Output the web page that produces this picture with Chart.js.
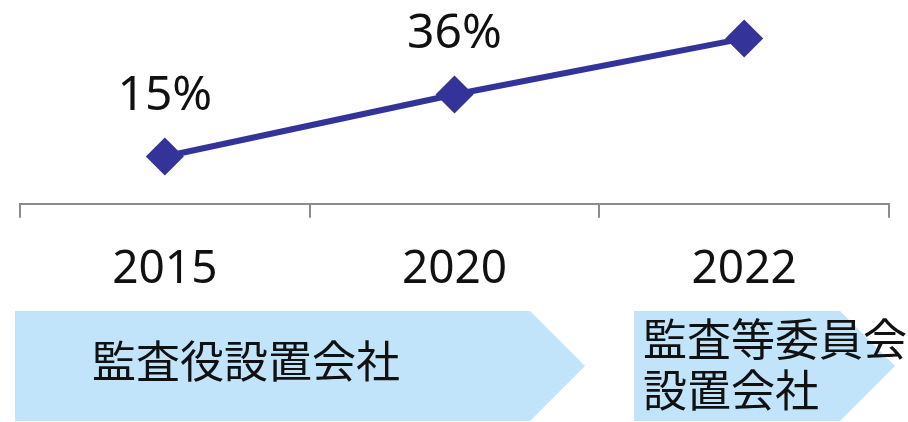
<!DOCTYPE html>
<html>
<head>
<meta charset="utf-8">
<script src="https://cdn.jsdelivr.net/npm/chart.js@4.4.0/dist/chart.umd.min.js"></script>
<style>
  html, body { margin: 0; padding: 0; background: #fff; }
  #wrap { width: 908px; height: 422px; position: relative; }
</style>
</head>
<body>
<div id="wrap"><canvas id="trendChart"></canvas></div>
<script>
const years = ['2015', '2020', '2022'];
const ratios = [15, 36, 55];
const ratioLabels = ratios.map(v => v + '%');
const phaseLabels = [['監査役設置会社'], ['監査等委員会', '設置会社']];

const FONT = "'Noto Sans', 'Noto Sans CJK JP', sans-serif";
const LINE_COLOR = '#333399';
const BANNER_COLOR = '#c1e4fb';

// value labels above each point
const valueLabels = {
  id: 'valueLabels',
  afterDatasetsDraw(chart) {
    const ctx = chart.ctx;
    const meta = chart.getDatasetMeta(0);
    ctx.save();
    ctx.fillStyle = '#111';
    ctx.font = '48px ' + FONT;
    ctx.textAlign = 'center';
    ctx.textBaseline = 'middle';
    meta.data.forEach((pt, i) => {
      ctx.fillText(ratioLabels[i], pt.x, pt.y - 60);
    });
    ctx.restore();
  }
};

// arrow banners under the axis
const phaseBanners = {
  id: 'phaseBanners',
  afterDraw(chart) {
    const ctx = chart.ctx;
    const top = 311, bottom = 421, mid = (top + bottom) / 2;
    const shapes = [
      { left: 15, edge: 530, tip: 585, textX: 92, lineYs: [365] },
      { left: 634, edge: 840, tip: 895, textX: 643, lineYs: [343, 394] }
    ];
    ctx.save();
    shapes.forEach((s, i) => {
      ctx.fillStyle = BANNER_COLOR;
      ctx.beginPath();
      ctx.moveTo(s.left, top);
      ctx.lineTo(s.edge, top);
      ctx.lineTo(s.tip, mid);
      ctx.lineTo(s.edge, bottom);
      ctx.lineTo(s.left, bottom);
      ctx.closePath();
      ctx.fill();

      ctx.fillStyle = '#111';
      ctx.font = '44px ' + FONT;
      ctx.textAlign = 'left';
      ctx.textBaseline = 'middle';
      phaseLabels[i].forEach((line, j) => {
        ctx.fillText(line, s.textX, s.lineYs[j]);
      });
    });
    ctx.restore();
  }
};

new Chart(document.getElementById('trendChart'), {
  type: 'line',
  data: {
    labels: years,
    datasets: [{
      data: ratios,
      borderColor: LINE_COLOR,
      borderWidth: 6,
      tension: 0,
      pointStyle: 'rectRot',
      pointRadius: 19,
      pointBackgroundColor: LINE_COLOR,
      pointBorderWidth: 0,
      clip: false
    }]
  },
  options: {
    responsive: true,
    maintainAspectRatio: false,
    animation: false,
    layout: { autoPadding: false, padding: { left: 20, right: 19, top: 0, bottom: 101 } },
    plugins: {
      legend: { display: false },
      tooltip: { enabled: false }
    },
    scales: {
      x: {
        offset: true,
        grid: {
          offset: true,
          drawOnChartArea: false,
          drawTicks: true,
          tickLength: 14,
          color: '#8c8c8c',
          lineWidth: 2
        },
        border: { display: true, color: '#8c8c8c', width: 2 },
        ticks: {
          color: '#111',
          font: { family: FONT, size: 46 },
          padding: 24,
          maxRotation: 0
        }
      },
      y: {
        display: false,
        min: -1,
        max: 68
      }
    }
  },
  plugins: [valueLabels, phaseBanners]
});
</script>
</body>
</html>
